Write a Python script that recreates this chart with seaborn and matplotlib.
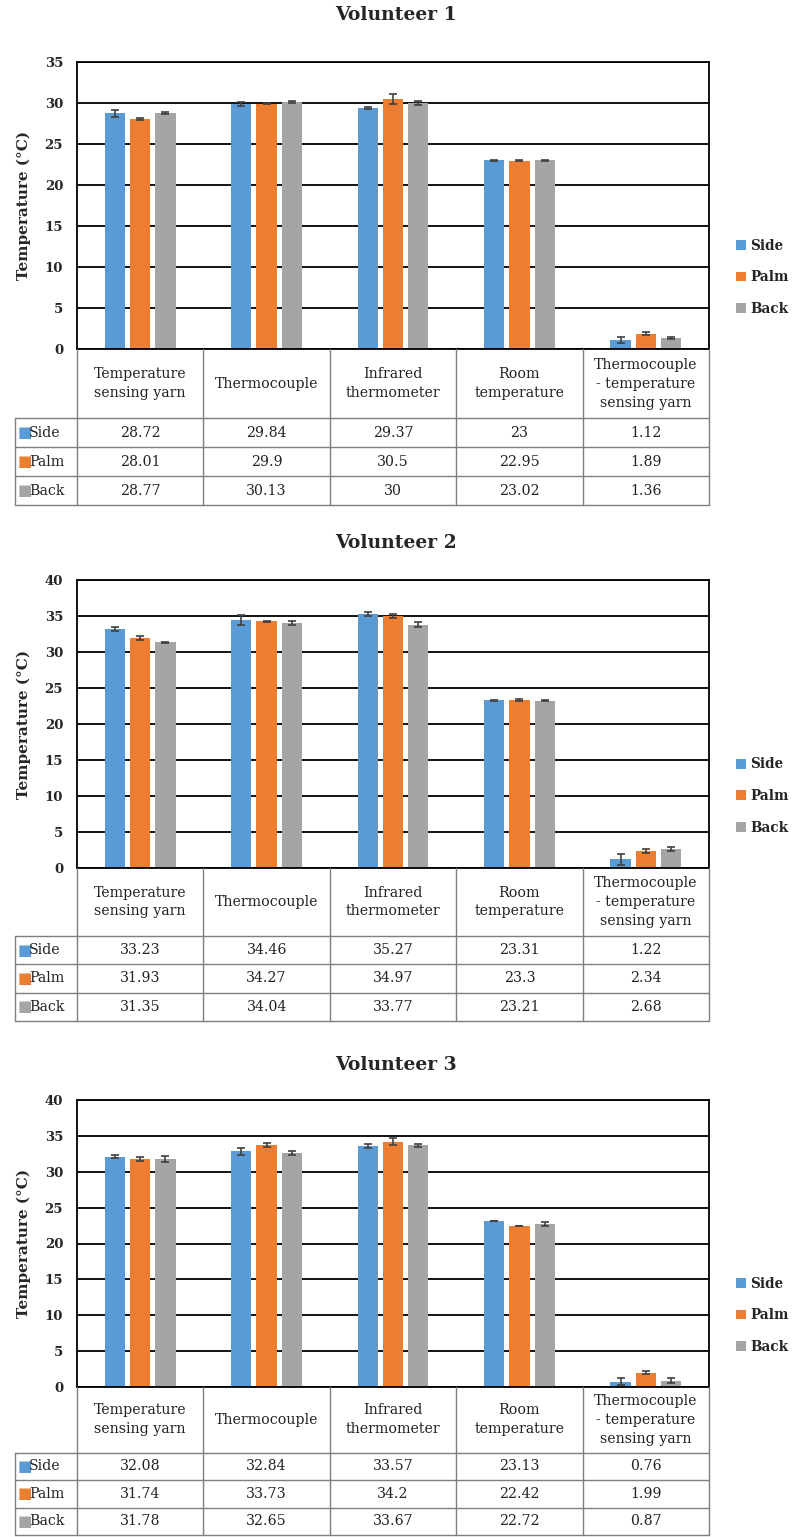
import matplotlib
matplotlib.use("Agg")
import matplotlib.pyplot as plt
import pandas as pd
import seaborn as sns

# Categories / header labels
categories = ["Temperature sensing yarn", "Thermocouple", "Infrared thermometer",
              "Room temperature", "Thermocouple - temperature sensing yarn"]
header_labels = ["Temperature\nsensing yarn", "Thermocouple", "Infrared\nthermometer",
                 "Room\ntemperature", "Thermocouple\n- temperature\nsensing yarn"]
locations = ["Side", "Palm", "Back"]
colors = ["#5B9BD5", "#ED7D31", "#A5A5A5"]

# Volunteer 1
v1_side = [28.72, 29.84, 29.37, 23, 1.12]
v1_palm = [28.01, 29.9, 30.5, 22.95, 1.89]
v1_back = [28.77, 30.13, 30, 23.02, 1.36]
e1_side = [0.37, 0.26, 0.1, 0.08, 0.4]
e1_palm = [0.1, 0.05, 0.57, 0.05, 0.17]
e1_back = [0.1, 0.1, 0.3, 0.08, 0.1]

# Volunteer 2
v2_side = [33.23, 34.46, 35.27, 23.31, 1.22]
v2_palm = [31.93, 34.27, 34.97, 23.3, 2.34]
v2_back = [31.35, 34.04, 33.77, 23.21, 2.68]
e2_side = [0.28, 0.7, 0.28, 0.08, 0.78]
e2_palm = [0.32, 0.1, 0.3, 0.12, 0.3]
e2_back = [0.1, 0.3, 0.35, 0.06, 0.28]

# Volunteer 3
v3_side = [32.08, 32.84, 33.57, 23.13, 0.76]
v3_palm = [31.74, 33.73, 34.2, 22.42, 1.99]
v3_back = [31.78, 32.65, 33.67, 22.72, 0.87]
e3_side = [0.23, 0.5, 0.3, 0.05, 0.5]
e3_palm = [0.25, 0.25, 0.48, 0.05, 0.23]
e3_back = [0.42, 0.28, 0.18, 0.3, 0.37]

sns.set_theme(style="white")
plt.rcParams["font.family"] = ["DejaVu Serif"]

W, H = 792, 1537
fig = plt.figure(figsize=(W / 100, H / 100), dpi=100)

GRID = "#7f7f7f"


def fx(px):
    return px / W


def draw_panel(title, title_y, plot_top, plot_bot, table_bot, side, palm, back, errs, ymax):
    left, right = 77, 709
    ax = fig.add_axes([fx(left), 1 - plot_bot / H, fx(right - left), (plot_bot - plot_top) / H])
    axt = fig.add_axes([fx(left), 1 - table_bot / H, fx(right - left), (table_bot - plot_bot) / H])

    df = pd.DataFrame({
        "category": categories * 3,
        "location": [l for l in locations for _ in categories],
        "value": side + palm + back,
    })
    sns.barplot(data=df, x="category", y="value", hue="location", order=categories,
                hue_order=locations, palette=colors, width=0.6, gap=0.2,
                errorbar=None, saturation=1, linewidth=0, ax=ax)

    for cont, err in zip(ax.containers, errs):
        xs = [b.get_x() + b.get_width() / 2 for b in cont]
        ys = [b.get_height() for b in cont]
        ax.errorbar(xs, ys, yerr=err, fmt="none", ecolor="#404040",
                    elinewidth=1.2, capsize=3, capthick=1.2, zorder=5)

    ax.set_xlim(-0.5, 4.5)
    ax.set_ylim(0, ymax)
    ax.set_yticks(range(0, ymax + 1, 5))
    ax.yaxis.grid(True, color="black", linewidth=1.3)
    ax.set_axisbelow(True)
    ax.set_xticks([])
    ax.set_xlabel("")
    ax.set_ylabel("Temperature (°C)", fontsize=11, fontweight="bold", labelpad=10)
    ax.tick_params(axis="y", length=0, pad=10, labelsize=9.5)
    for t in ax.get_yticklabels():
        t.set_fontweight("bold")
    for s in ax.spines.values():
        s.set_color("black")
        s.set_linewidth(1.3)

    handles, labels = ax.get_legend_handles_labels()
    ax.legend(handles, labels, loc="center left", bbox_to_anchor=(1.043, 0.25),
              frameon=False, borderpad=0, borderaxespad=0,
              handlelength=0.75, handleheight=0.75, handletextpad=0.3,
              labelspacing=1.3, prop={"weight": "bold", "size": 9.8})

    fig.text(0.5, 1 - title_y / H, title, ha="center", va="center",
             fontsize=13.5, fontweight="bold")

    # data table under the chart
    hdr = 2.4
    total = hdr + 3
    axt.set_xlim(-0.5, 4.5)
    axt.set_ylim(total, 0)
    axt.axis("off")
    x0 = -0.5 - 62 / 126
    for xv in [-0.5, 0.5, 1.5, 2.5, 3.5, 4.5]:
        axt.plot([xv, xv], [0, total], color=GRID, lw=1, clip_on=False)
    axt.plot([x0, x0], [hdr, total], color=GRID, lw=1, clip_on=False)
    for yv in [hdr, hdr + 1, hdr + 2, total]:
        axt.plot([x0, 4.5], [yv, yv], color=GRID, lw=1, clip_on=False)
    for i, lab in enumerate(header_labels):
        axt.text(i, hdr / 2, lab, ha="center", va="center", fontsize=10.2,
                 linespacing=1.45, color="#222222")
    rows = [side, palm, back]
    for r, (vals, loc, col) in enumerate(zip(rows, locations, colors)):
        yc = hdr + r + 0.5
        axt.text(x0 + 0.02, yc, "■", color=col, ha="left", va="center",
                 fontsize=11, family="DejaVu Sans", clip_on=False)
        axt.text(x0 + 0.11, yc, loc, ha="left", va="center", fontsize=10.2,
                 color="#222222", clip_on=False)
        for i, v in enumerate(vals):
            axt.text(i, yc, f"{v:g}", ha="center", va="center", fontsize=10.2,
                     color="#222222")


draw_panel("Volunteer 1", 15, 62, 349, 505, v1_side, v1_palm, v1_back,
           [e1_side, e1_palm, e1_back], 35)
draw_panel("Volunteer 2", 543, 580, 868, 1021, v2_side, v2_palm, v2_back,
           [e2_side, e2_palm, e2_back], 40)
draw_panel("Volunteer 3", 1065, 1100, 1387, 1535, v3_side, v3_palm, v3_back,
           [e3_side, e3_palm, e3_back], 40)

fig.savefig("out.png", dpi=100, facecolor="white")
